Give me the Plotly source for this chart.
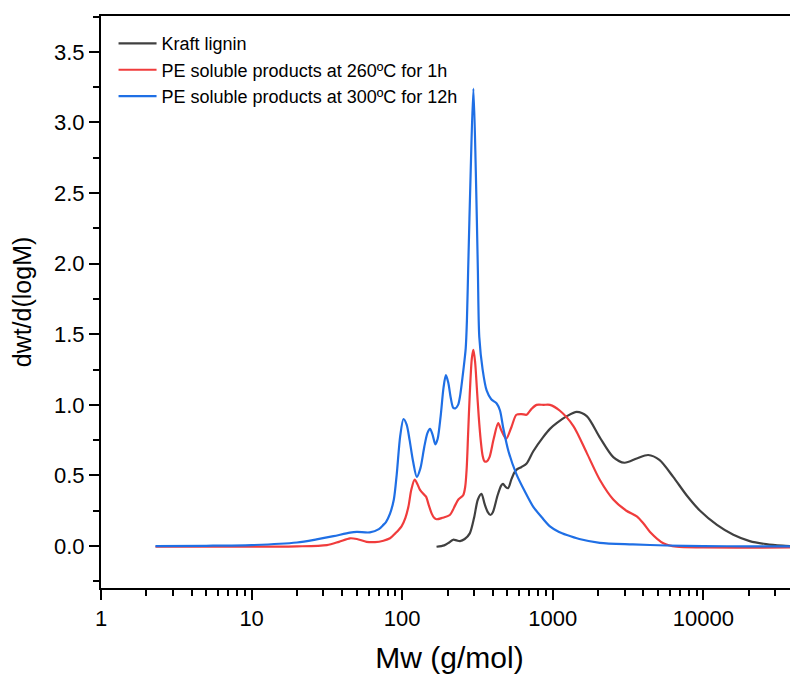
import plotly.graph_objects as go

# ---- data ----
kraft_x = [169, 190, 205, 218, 230, 242, 260, 281, 300, 318, 336, 352, 370, 385, 400, 430, 455, 467,
           485, 505, 530, 555, 573, 620, 670, 740, 860, 957, 1060, 1240, 1440, 1680, 2050, 2520, 2990,
           3610, 4300, 5100, 6300, 7730, 9500, 12300, 15800, 20300, 26100, 33500, 43000]
kraft_y = [-0.005, 0.005, 0.025, 0.045, 0.04, 0.035, 0.05, 0.09, 0.2, 0.33, 0.37, 0.30, 0.24, 0.22,
           0.24, 0.36, 0.43, 0.44, 0.42, 0.41, 0.47, 0.52, 0.54, 0.56, 0.585, 0.67, 0.77, 0.83, 0.87,
           0.92, 0.95, 0.92, 0.77, 0.63, 0.59, 0.62, 0.645, 0.61, 0.49, 0.36, 0.25, 0.15, 0.08, 0.035,
           0.014, 0.003, -0.003]

pe260_x = [2.3, 10, 20, 31.6, 38, 45, 50, 58, 66, 75, 83, 90, 99, 105, 110, 115, 121, 126, 131, 138,
           144, 150, 157, 163, 169, 185, 207, 225, 236, 254, 262, 268, 274, 281, 290, 297, 305, 313,
           322, 332, 342, 352, 365, 380, 405, 434, 455, 490, 530, 573, 620, 670, 720, 780, 870, 957,
           1110, 1370, 1680, 2050, 2520, 3080, 3610, 4000, 4420, 5420, 6640, 10000, 43000]
pe260_y = [-0.005, -0.004, -0.002, 0.007, 0.03, 0.055, 0.05, 0.03, 0.028, 0.038, 0.055, 0.09, 0.14,
           0.2, 0.28, 0.40, 0.47, 0.44, 0.40, 0.37, 0.35, 0.29, 0.23, 0.20, 0.19, 0.20, 0.22, 0.29,
           0.33, 0.36, 0.42, 0.55, 0.80, 1.08, 1.33, 1.39, 1.30, 1.12, 0.92, 0.75, 0.64, 0.60, 0.60,
           0.63, 0.76, 0.87, 0.82, 0.76, 0.84, 0.93, 0.935, 0.93, 0.97, 1.0, 1.0, 1.0, 0.96, 0.85,
           0.66, 0.47, 0.33, 0.25, 0.21, 0.16, 0.10, 0.02, -0.005, -0.01, -0.01]

pe300_x = [2.3, 5, 10, 20, 27, 35, 45, 50, 61, 70, 75, 78, 83, 88, 92, 97, 102, 107, 112, 118, 125,
           132, 140, 147, 153, 159, 166, 172, 180, 188, 195, 202, 210, 218, 225, 235, 242, 255, 264,
           269, 274, 285, 297, 308, 318, 325, 342, 364, 390, 424, 446, 468, 508, 573, 650, 740, 850,
           957, 1100, 1240, 1500, 2050, 3400, 5680, 10000, 20000, 43000]
pe300_y = [0, 0.002, 0.007, 0.025, 0.047, 0.07, 0.095, 0.1, 0.097, 0.12, 0.15, 0.17, 0.23, 0.33,
           0.51, 0.78, 0.90, 0.86, 0.75, 0.60, 0.49, 0.55, 0.70, 0.80, 0.83, 0.79, 0.72, 0.76, 0.92,
           1.12, 1.21, 1.16, 1.05, 0.98, 0.975, 1.00, 1.06, 1.25, 1.40, 1.60, 1.95, 2.66, 3.24, 2.66,
           1.95, 1.48, 1.25, 1.10, 1.04, 1.01, 0.96, 0.84, 0.67, 0.51, 0.39, 0.28, 0.20, 0.14, 0.10,
           0.078, 0.05, 0.023, 0.012, 0.004, 0.0, -0.002, -0.003]

names = ["Kraft lignin", "PE soluble products at 260ºC for 1h", "PE soluble products at 300ºC for 12h"]
colors = ["#404040", "#f03c3c", "#1f6fe5"]

x_tickvals = [1, 10, 100, 1000, 10000]
x_ticktext = ["1", "10", "100", "1000", "10000"]
y_tickvals = [0.0, 0.5, 1.0, 1.5, 2.0, 2.5, 3.0, 3.5]
y_ticktext = ["0.0", "0.5", "1.0", "1.5", "2.0", "2.5", "3.0", "3.5"]

FONT = "Liberation Sans, Arial, sans-serif"

fig = go.Figure()
for xs, ys, nm, c in [(kraft_x, kraft_y, names[0], colors[0]),
                      (pe260_x, pe260_y, names[1], colors[1]),
                      (pe300_x, pe300_y, names[2], colors[2])]:
    fig.add_trace(go.Scatter(x=xs, y=ys, name=nm, mode="lines",
                             line=dict(color=c, width=2.2, shape="spline", smoothing=0.8)))

fig.update_layout(
    width=790, height=669,
    margin=dict(l=93, r=0, t=8, b=89, autoexpand=False),
    plot_bgcolor="white", paper_bgcolor="white",
    font=dict(family=FONT, color="black"),
    showlegend=True,
    legend=dict(x=0.018, y=0.984, xanchor="left", yanchor="top",
                bgcolor="rgba(0,0,0,0)", borderwidth=0,
                font=dict(family=FONT, size=18, color="black"),
                itemwidth=38, tracegroupgap=0),
    xaxis=dict(type="log", range=[0, 4.628],
               tickvals=x_tickvals, ticktext=x_ticktext,
               ticks="outside", ticklen=10, tickwidth=2, tickcolor="black",
               showline=True, linewidth=2, linecolor="black", mirror=True,
               showgrid=False, zeroline=False,
               tickfont=dict(family=FONT, size=22, color="black"),
               minor=dict(dtick="D1", ticks="outside", ticklen=6, tickwidth=2,
                          tickcolor="black", showgrid=False),
               title=dict(text="Mw (g/mol)", font=dict(family=FONT, size=30, color="black"),
                          standoff=17)),
    yaxis=dict(range=[-0.297, 3.754],
               tickvals=y_tickvals, ticktext=y_ticktext,
               ticks="outside", ticklen=10, tickwidth=2, tickcolor="black",
               showline=True, linewidth=2, linecolor="black",
               showgrid=False, zeroline=False,
               tickfont=dict(family=FONT, size=22, color="black"),
               minor=dict(dtick=0.25, tick0=0, ticks="outside", ticklen=6, tickwidth=2,
                          tickcolor="black", showgrid=False),
               title=dict(text="dwt/d(logM)", font=dict(family=FONT, size=25, color="black"),
                          standoff=20)),
)

fig.write_html("out.html")
